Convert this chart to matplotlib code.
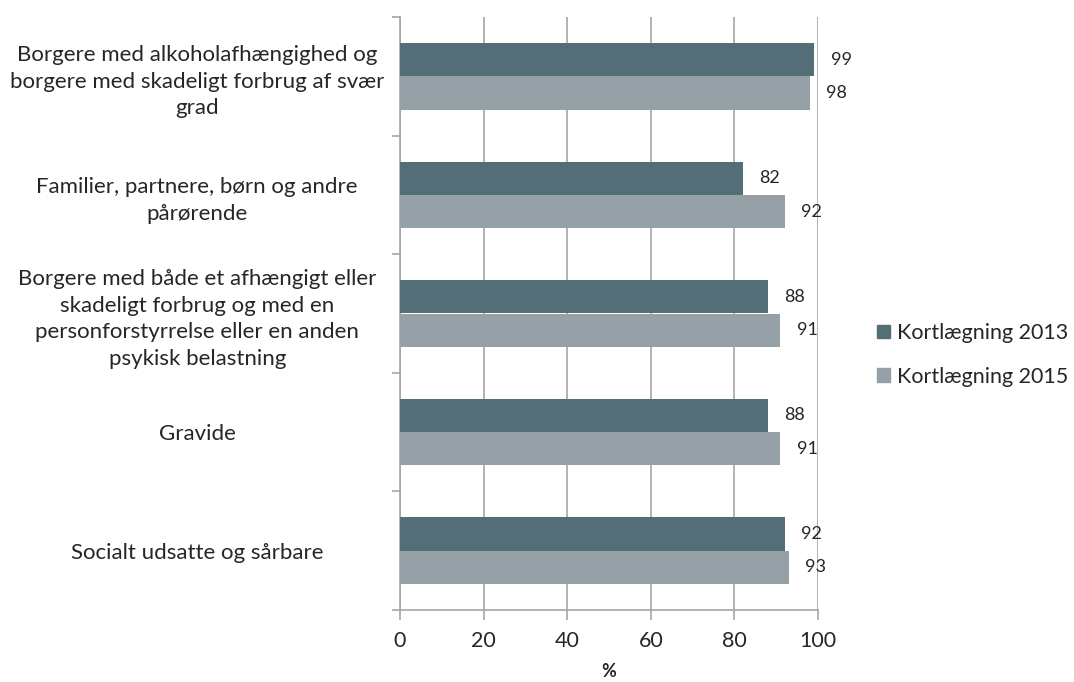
import numpy as np
import matplotlib.pyplot as plt
from matplotlib.patches import Patch

# Andel af kommuner med tilbud til målgruppen (%)
categories = [
    "Borgere med alkoholafhængighed og\nborgere med skadeligt forbrug af svær\ngrad",
    "Familier, partnere, børn og andre\npårørende",
    "Borgere med både et afhængigt eller\nskadeligt forbrug og med en\npersonforstyrrelse eller en anden\npsykisk belastning",
    "Gravide",
    "Socialt udsatte og sårbare",
]
kort_2013 = [99, 82, 88, 88, 92]
kort_2015 = [98, 92, 91, 91, 93]
series_names = ["Kortlægning 2013", "Kortlægning 2015"]
xticks = [0, 20, 40, 60, 80, 100]

dark = "#546e78"
light = "#95a1a7"
txt = "#262626"
grid = "#a6a6a6"

plt.rcParams['font.family'] = ['Lato', 'DejaVu Sans']

fig = plt.figure(figsize=(10.74, 6.82), dpi=100)
ax = fig.add_axes([400 / 1074, 1 - 610 / 682, 418 / 1074, 593 / 682])

y = np.arange(len(categories))
h = 0.28
ax.barh(y - h / 2, kort_2013, height=h, color=dark, zorder=3)
ax.barh(y + h / 2, kort_2015, height=h, color=light, zorder=3)

for yi, v in zip(y, kort_2013):
    ax.text(v + 4, yi - h / 2, str(v), va='center', ha='left', fontsize=13, color=txt, zorder=4)
for yi, v in zip(y, kort_2015):
    ax.text(v + 4, yi + h / 2, str(v), va='center', ha='left', fontsize=13, color=txt, zorder=4)

ax.set_xlim(0, 100)
ax.set_ylim(len(categories) - 0.5, -0.5)
ax.set_xticks(xticks)
ax.set_xticklabels([str(t) for t in xticks], fontsize=15.5, color=txt)
ax.xaxis.grid(True, color=grid, linewidth=1.2, zorder=0)

# category labels sit between the separator ticks
ax.set_yticks(np.arange(-0.5, len(categories), 1))
ax.set_yticklabels([])
ax.set_yticks(y, minor=True)
ax.set_yticklabels(categories, minor=True, fontsize=16, color=txt, ha='center',
                   linespacing=1.42)
ax.tick_params(axis='y', which='minor', length=0, pad=146)
ax.tick_params(axis='y', which='major', length=6, color=grid, width=1.2)
ax.tick_params(axis='x', length=7, color=grid, width=1.2, pad=8)

for s in ['top', 'right']:
    ax.spines[s].set_visible(False)
for s in ['left', 'bottom']:
    ax.spines[s].set_color(grid)
    ax.spines[s].set_linewidth(1.2)

ax.set_xlabel("%", fontsize=13, fontweight='bold', color=txt, labelpad=9)

handles = [Patch(color=dark, label=series_names[0]), Patch(color=light, label=series_names[1])]
fig.legend(handles=handles, loc='center left', bbox_to_anchor=(858 / 1074, 1 - 355 / 682),
           frameon=False, fontsize=15.5, handlelength=0.6, handleheight=0.6,
           handletextpad=0.3, labelspacing=1.1, labelcolor=txt)

fig.savefig("out.png", dpi=100)
